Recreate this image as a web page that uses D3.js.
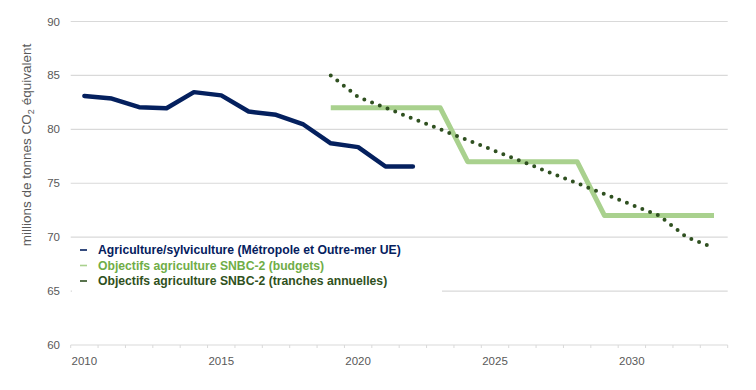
<!DOCTYPE html>
<html>
<head>
<meta charset="utf-8">
<script src="https://cdn.jsdelivr.net/npm/d3@7"></script>
<style>
  body { margin: 0; background: #fff; }
  text { font-family: "Liberation Sans", Arial, sans-serif; }
</style>
</head>
<body>
<div id="wrapper"></div>
<script>
// categories on the x axis (Excel-style category axis)
const years = [2010, 2011, 2012, 2013, 2014, 2015, 2016, 2017, 2018, 2019, 2020, 2021,
  2022, 2023, 2024, 2025, 2026, 2027, 2028, 2029, 2030, 2031, 2032, 2033]
const xTickLabels = [2010, 2015, 2020, 2025, 2030]
const yTicks = [60, 65, 70, 75, 80, 85, 90]

// Agriculture/sylviculture, observed
const histYears = [2010, 2011, 2012, 2013, 2014, 2015, 2016, 2017, 2018, 2019, 2020, 2021, 2022]
const histValues = [83.1, 82.85, 82.05, 81.95, 83.45, 83.15, 81.65, 81.35, 80.45, 78.7, 78.35, 76.55, 76.55]

// SNBC-2 targets
const targetYears = [2019, 2020, 2021, 2022, 2023, 2024, 2025, 2026, 2027, 2028, 2029, 2030, 2031, 2032, 2033]
const budgetValues = [82, 82, 82, 82, 82, 77, 77, 77, 77, 77, 72, 72, 72, 72, 72]
const annualValues = [85, 83, 82, 81, 80, 79, 78, 77, 76, 75, 74, 73, 72, 70, 69]

const legendLabels = [
  "Agriculture/sylviculture (Métropole et Outre-mer UE)",
  "Objectifs agriculture SNBC-2 (budgets)",
  "Objectifs agriculture SNBC-2 (tranches annuelles)"
]

const colors = {
  hist: "#04205e",
  budget: "#a9d18e",
  budgetText: "#70ad47",
  annual: "#2f5020"
}

const dimensions = {
  width: 756,
  height: 390,
  plotLeft: 70.7,
  plotRight: 727.7,
  plotTop: 21.5,
  plotBottom: 345
}

const svg = d3.select("#wrapper")
  .append("svg")
  .attr("width", dimensions.width)
  .attr("height", dimensions.height)

const xScale = d3.scaleBand()
  .domain(years)
  .range([dimensions.plotLeft, dimensions.plotRight])
  .padding(0)

const xCenter = d => xScale(d) + xScale.bandwidth() / 2

const yScale = d3.scaleLinear()
  .domain([60, 90])
  .range([dimensions.plotBottom, dimensions.plotTop])

// gridlines
svg.append("g")
  .selectAll("line")
  .data(yTicks.filter(t => t > 60))
  .join("line")
  .attr("x1", dimensions.plotLeft)
  .attr("x2", dimensions.plotRight)
  .attr("y1", d => yScale(d))
  .attr("y2", d => yScale(d))
  .attr("stroke", "#d9d9d9")
  .attr("stroke-width", 1.2)

// y tick labels
svg.append("g")
  .selectAll("text")
  .data(yTicks)
  .join("text")
  .attr("x", 60)
  .attr("y", d => yScale(d))
  .attr("dy", "0.35em")
  .attr("text-anchor", "end")
  .attr("font-size", "11.5px")
  .attr("fill", "#595959")
  .text(d => d)

// x axis
const xAxis = svg.append("g")
  .attr("transform", `translate(0, ${dimensions.plotBottom})`)

xAxis.append("line")
  .attr("x1", dimensions.plotLeft)
  .attr("x2", dimensions.plotRight)
  .attr("stroke", "#d9d9d9")
  .attr("stroke-width", 1.2)

xAxis.selectAll("line.tick")
  .data(years.concat(["end"]))
  .join("line")
  .attr("class", "tick")
  .attr("x1", d => d === "end" ? dimensions.plotRight : xScale(d))
  .attr("x2", d => d === "end" ? dimensions.plotRight : xScale(d))
  .attr("y1", 0)
  .attr("y2", 3)
  .attr("stroke", "#d9d9d9")

xAxis.selectAll("text")
  .data(xTickLabels)
  .join("text")
  .attr("x", d => xCenter(d))
  .attr("y", 15.5)
  .attr("dy", "0.35em")
  .attr("text-anchor", "middle")
  .attr("font-size", "11.5px")
  .attr("fill", "#595959")
  .text(d => d)

// y axis title
const yTitle = svg.append("text")
  .attr("transform", "translate(31, 145) rotate(-90)")
  .attr("text-anchor", "middle")
  .attr("font-size", "13.5px")
  .attr("fill", "#595959")
yTitle.append("tspan").text("millions de tonnes CO")
yTitle.append("tspan").attr("font-size", "9px").attr("dy", "3").text("2")
yTitle.append("tspan").attr("dy", "-3").text(" équivalent")

// legend box: white background hides the 65 gridline behind it
svg.append("rect")
  .attr("x", 72)
  .attr("y", 241)
  .attr("width", 370)
  .attr("height", 55)
  .attr("fill", "#fff")

const line = d3.line()
  .x(d => xCenter(d[0]))
  .y(d => yScale(d[1]))

svg.append("path")
  .attr("d", line(histYears.map((y, i) => [y, histValues[i]])))
  .attr("fill", "none")
  .attr("stroke", colors.hist)
  .attr("stroke-width", 4.5)
  .attr("stroke-linejoin", "round")
  .attr("stroke-linecap", "round")

svg.append("path")
  .attr("d", line(targetYears.map((y, i) => [y, budgetValues[i]])))
  .attr("fill", "none")
  .attr("stroke", colors.budget)
  .attr("stroke-width", 5)
  .attr("stroke-linejoin", "round")

svg.append("path")
  .attr("d", line(targetYears.map((y, i) => [y, annualValues[i]])))
  .attr("fill", "none")
  .attr("stroke", colors.annual)
  .attr("stroke-width", 4)
  .attr("stroke-linecap", "round")
  .attr("stroke-dasharray", "0 8.3")

const legendColors = [colors.hist, colors.budget, colors.annual]
const legendTextColors = [colors.hist, colors.budgetText, colors.annual]
const legendRows = svg.append("g")
  .selectAll("g")
  .data(legendLabels)
  .join("g")
  .attr("transform", (d, i) => `translate(80, ${250 + i * 15.5})`)

legendRows.append("line")
  .attr("x1", 0)
  .attr("x2", 7)
  .attr("stroke", (d, i) => legendColors[i])
  .attr("stroke-width", 1.6)

legendRows.append("text")
  .attr("x", 18)
  .attr("dy", "0.35em")
  .attr("font-size", "12.2px")
  .attr("font-weight", "bold")
  .attr("fill", (d, i) => legendTextColors[i])
  .text(d => d)
</script>
</body>
</html>
